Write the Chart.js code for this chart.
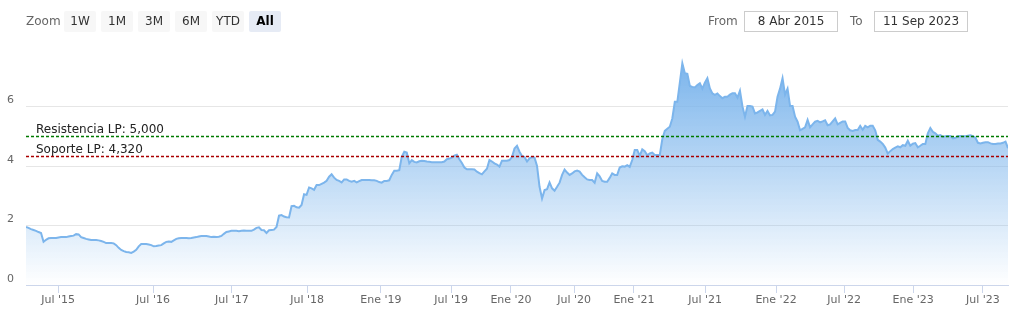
<!DOCTYPE html>
<html lang="es">
<head>
<meta charset="utf-8">
<script src="https://cdn.jsdelivr.net/npm/chart.js@4.4.1/dist/chart.umd.min.js"></script>
<style>
  body { margin: 0; background: #fff; font-family: 'DejaVu Sans', sans-serif; }
  #contenedor { position: relative; width: 1019px; height: 313px; overflow: hidden; }
  #grafico { position: absolute; left: 0; top: 0; }
  .rotulo { position: absolute; top: 13px; font-size: 12px; color: #666; line-height: 16px; }
  .boton { position: absolute; top: 11px; width: 32px; height: 21px; background: #f7f7f7; border-radius: 2px;
           font-size: 12px; color: #333; text-align: center; line-height: 21px; }
  .boton.activo { background: #e6ebf5; font-weight: bold; color: #000; }
  .fecha { position: absolute; top: 11px; width: 92px; height: 19px; border: 1px solid #ccc; background: #fff;
           font-size: 12px; color: #333; text-align: center; line-height: 19px; }
</style>
</head>
<body>
<div id="contenedor">
  <canvas id="grafico" width="1019" height="313"></canvas>
  <div class="rotulo" style="left:26px">Zoom</div>
  <div id="botones"></div>
  <div class="rotulo" style="left:708px">From</div>
  <div class="fecha" style="left:744px" id="desde"></div>
  <div class="rotulo" style="left:850px">To</div>
  <div class="fecha" style="left:874px" id="hasta"></div>
</div>
<script>
// Cotización (eje ordinal: una posición por sesión muestreada)
const valores = [
  1.95, 1.92, 1.88, 1.85, 1.82, 1.78, 1.75, 1.45, 1.52, 1.57,
  1.58, 1.58, 1.58, 1.60, 1.61, 1.61, 1.61, 1.63, 1.65, 1.66,
  1.71, 1.70, 1.61, 1.58, 1.55, 1.53, 1.51, 1.51, 1.51, 1.50,
  1.48, 1.45, 1.41, 1.41, 1.41, 1.40, 1.34, 1.25, 1.18, 1.14,
  1.11, 1.10, 1.08, 1.12, 1.18, 1.30, 1.38, 1.38, 1.38, 1.36,
  1.34, 1.30, 1.31, 1.33, 1.34, 1.40, 1.45, 1.46, 1.45, 1.50,
  1.55, 1.57, 1.58, 1.58, 1.58, 1.57, 1.58, 1.60, 1.61, 1.63,
  1.65, 1.65, 1.65, 1.63, 1.61, 1.62, 1.61, 1.62, 1.65, 1.72,
  1.78, 1.80, 1.82, 1.82, 1.82, 1.81, 1.82, 1.83, 1.82, 1.82,
  1.82, 1.86, 1.92, 1.94, 1.85, 1.84, 1.75, 1.84, 1.85, 1.86,
  1.95, 2.33, 2.35, 2.30, 2.28, 2.27, 2.65, 2.66, 2.61, 2.60,
  2.69, 3.05, 3.03, 3.28, 3.25, 3.20, 3.36, 3.36, 3.40, 3.44,
  3.50, 3.64, 3.72, 3.61, 3.53, 3.50, 3.45, 3.55, 3.55, 3.50,
  3.47, 3.50, 3.45, 3.49, 3.53, 3.53, 3.53, 3.53, 3.52, 3.52,
  3.50, 3.46, 3.44, 3.50, 3.50, 3.52, 3.70, 3.84, 3.84, 3.86,
  4.31, 4.48, 4.45, 4.09, 4.20, 4.14, 4.12, 4.16, 4.18, 4.17,
  4.15, 4.14, 4.13, 4.13, 4.13, 4.13, 4.13, 4.15, 4.23, 4.25,
  4.28, 4.35, 4.38, 4.23, 4.10, 3.95, 3.89, 3.89, 3.89, 3.88,
  3.81, 3.76, 3.72, 3.82, 3.91, 4.20, 4.15, 4.09, 4.05, 3.98,
  4.18, 4.18, 4.18, 4.20, 4.30, 4.59, 4.68, 4.48, 4.34, 4.30,
  4.15, 4.26, 4.30, 4.28, 4.00, 3.30, 2.91, 3.19, 3.22, 3.45,
  3.25, 3.17, 3.30, 3.44, 3.70, 3.88, 3.78, 3.70, 3.75, 3.82,
  3.85, 3.81, 3.70, 3.62, 3.55, 3.53, 3.53, 3.44, 3.75, 3.65,
  3.50, 3.47, 3.47, 3.60, 3.75, 3.70, 3.70, 3.95, 3.99, 3.98,
  4.03, 3.97, 4.20, 4.54, 4.54, 4.34, 4.56, 4.50, 4.36, 4.42,
  4.45, 4.37, 4.37, 4.37, 4.90, 5.18, 5.25, 5.32, 5.60, 6.16,
  6.16, 6.80, 7.45, 7.12, 7.10, 6.69, 6.66, 6.64, 6.72, 6.78,
  6.60, 6.80, 6.95, 6.61, 6.44, 6.39, 6.44, 6.35, 6.28, 6.33,
  6.33, 6.40, 6.45, 6.45, 6.30, 6.53, 6.00, 5.66, 6.02, 6.02,
  6.00, 5.77, 5.80, 5.85, 5.90, 5.72, 5.85, 5.70, 5.72, 5.83,
  6.33, 6.60, 6.95, 6.40, 6.60, 6.02, 6.02, 5.66, 5.49, 5.20,
  5.25, 5.30, 5.55, 5.30, 5.40, 5.49, 5.52, 5.47, 5.50, 5.54,
  5.37, 5.40, 5.50, 5.60, 5.40, 5.45, 5.50, 5.50, 5.28, 5.20,
  5.18, 5.21, 5.21, 5.35, 5.22, 5.35, 5.30, 5.35, 5.35, 5.20,
  4.88, 4.82, 4.74, 4.62, 4.42, 4.50, 4.57, 4.62, 4.66, 4.63,
  4.70, 4.68, 4.85, 4.68, 4.75, 4.77, 4.63, 4.68, 4.74, 4.74,
  5.10, 5.28, 5.15, 5.10, 5.02, 5.04, 4.98, 5.00, 5.01, 5.01,
  4.93, 4.95, 5.00, 5.01, 5.00, 5.00, 5.02, 5.03, 5.00, 4.95,
  4.78, 4.76, 4.78, 4.80, 4.80, 4.76, 4.74, 4.74, 4.76, 4.76,
  4.78, 4.82, 4.60
];

// Marcas del eje X (posición ordinal de cada fecha)
const posicionesX = [12.8, 50.7, 82.2, 112.2, 141.7, 169.7, 193.6, 218.8, 242.7, 271.1, 299.4, 326.6, 354.1, 382.0];
const etiquetasX = ["Jul '15", "Jul '16", "Jul '17", "Jul '18", "Ene '19", "Jul '19", "Ene '20",
                    "Jul '20", "Ene '21", "Jul '21", "Ene '22", "Jul '22", "Ene '23", "Jul '23"];
const ticksY = [0, 2, 4, 6];

// Líneas de resistencia / soporte
const lineasNombre = ['Resistencia LP', 'Soporte LP'];
const lineasValor = [5.0, 4.32];
const lineasColor = ['#007a00', '#aa0000'];

const botones = ['1W', '1M', '3M', '6M', 'YTD', 'All'];
const fechaDesde = '8 Abr 2015';
const fechaHasta = '11 Sep 2023';

const contBotones = document.getElementById('botones');
botones.forEach((b, i) => {
    const div = document.createElement('div');
    div.className = 'boton' + (b === 'All' ? ' activo' : '');
    div.style.left = (64 + i * 37) + 'px';
    div.textContent = b;
    contBotones.appendChild(div);
});
document.getElementById('desde').textContent = fechaDesde;
document.getElementById('hasta').textContent = fechaHasta;

const lineasPlot = {
    id: 'lineasPlot',
    afterDatasetsDraw(chart) {
        const { ctx, chartArea, scales } = chart;
        lineasValor.forEach((valor, i) => {
            const y = Math.round(scales.y.getPixelForValue(valor)) + 0.5;
            ctx.save();
            ctx.strokeStyle = lineasColor[i];
            ctx.lineWidth = 1.5;
            ctx.setLineDash([3, 2]);
            ctx.beginPath();
            ctx.moveTo(chartArea.left, y);
            ctx.lineTo(chartArea.right, y);
            ctx.stroke();
            ctx.setLineDash([]);
            ctx.fillStyle = '#222';
            ctx.font = '12px "DejaVu Sans"';
            ctx.textBaseline = 'alphabetic';
            ctx.fillText(lineasNombre[i] + ': ' + valor.toFixed(3).replace('.', ','), chartArea.left + 10, y - 3.5);
            ctx.restore();
        });
    }
};

Chart.defaults.font.family = "'DejaVu Sans', sans-serif";

const ctx = document.getElementById('grafico').getContext('2d');
const grafico = new Chart(ctx, {
    type: 'line',
    data: {
        datasets: [{
            data: valores.map((v, i) => ({ x: i, y: v })),
            borderColor: '#7cb5ec',
            borderWidth: 2,
            pointRadius: 0,
            tension: 0,
            fill: 'origin',
            backgroundColor: function (context) {
                const chart = context.chart;
                const { chartArea, scales } = chart;
                if (!chartArea) return 'rgba(124,181,236,0.4)';
                const arriba = scales.y.getPixelForValue(Math.max(...valores));
                const g = chart.ctx.createLinearGradient(0, arriba, 0, chartArea.bottom);
                g.addColorStop(0, 'rgba(124,181,236,1)');
                g.addColorStop(1, 'rgba(124,181,236,0)');
                return g;
            }
        }]
    },
    options: {
        responsive: false,
        animation: false,
        devicePixelRatio: 1,
        layout: { padding: { top: 50, right: 11, left: 0, bottom: 0 } },
        plugins: { legend: { display: false }, tooltip: { enabled: false } },
        scales: {
            x: {
                type: 'linear',
                min: 0,
                max: valores.length - 1,
                afterBuildTicks: scale => { scale.ticks = posicionesX.map(v => ({ value: v })); },
                afterFit: scale => { scale.height = 28; },
                grid: { drawOnChartArea: false, tickLength: 8, color: '#ccd6eb' },
                border: { color: '#ccd6eb' },
                ticks: {
                    autoSkip: false, maxRotation: 0, minRotation: 0, padding: 1,
                    color: '#666', font: { size: 11 },
                    callback: (v, i) => etiquetasX[i]
                }
            },
            y: {
                min: 0,
                max: 7.9,
                afterBuildTicks: scale => { scale.ticks = ticksY.map(v => ({ value: v })); },
                afterFit: scale => { scale.width = 26; },
                grid: { color: '#e6e6e6', drawTicks: false },
                border: { display: false },
                ticks: { color: '#666', font: { size: 11 }, padding: 12, labelOffset: -6 }
            }
        }
    },
    plugins: [lineasPlot]
});
</script>
</body>
</html>
